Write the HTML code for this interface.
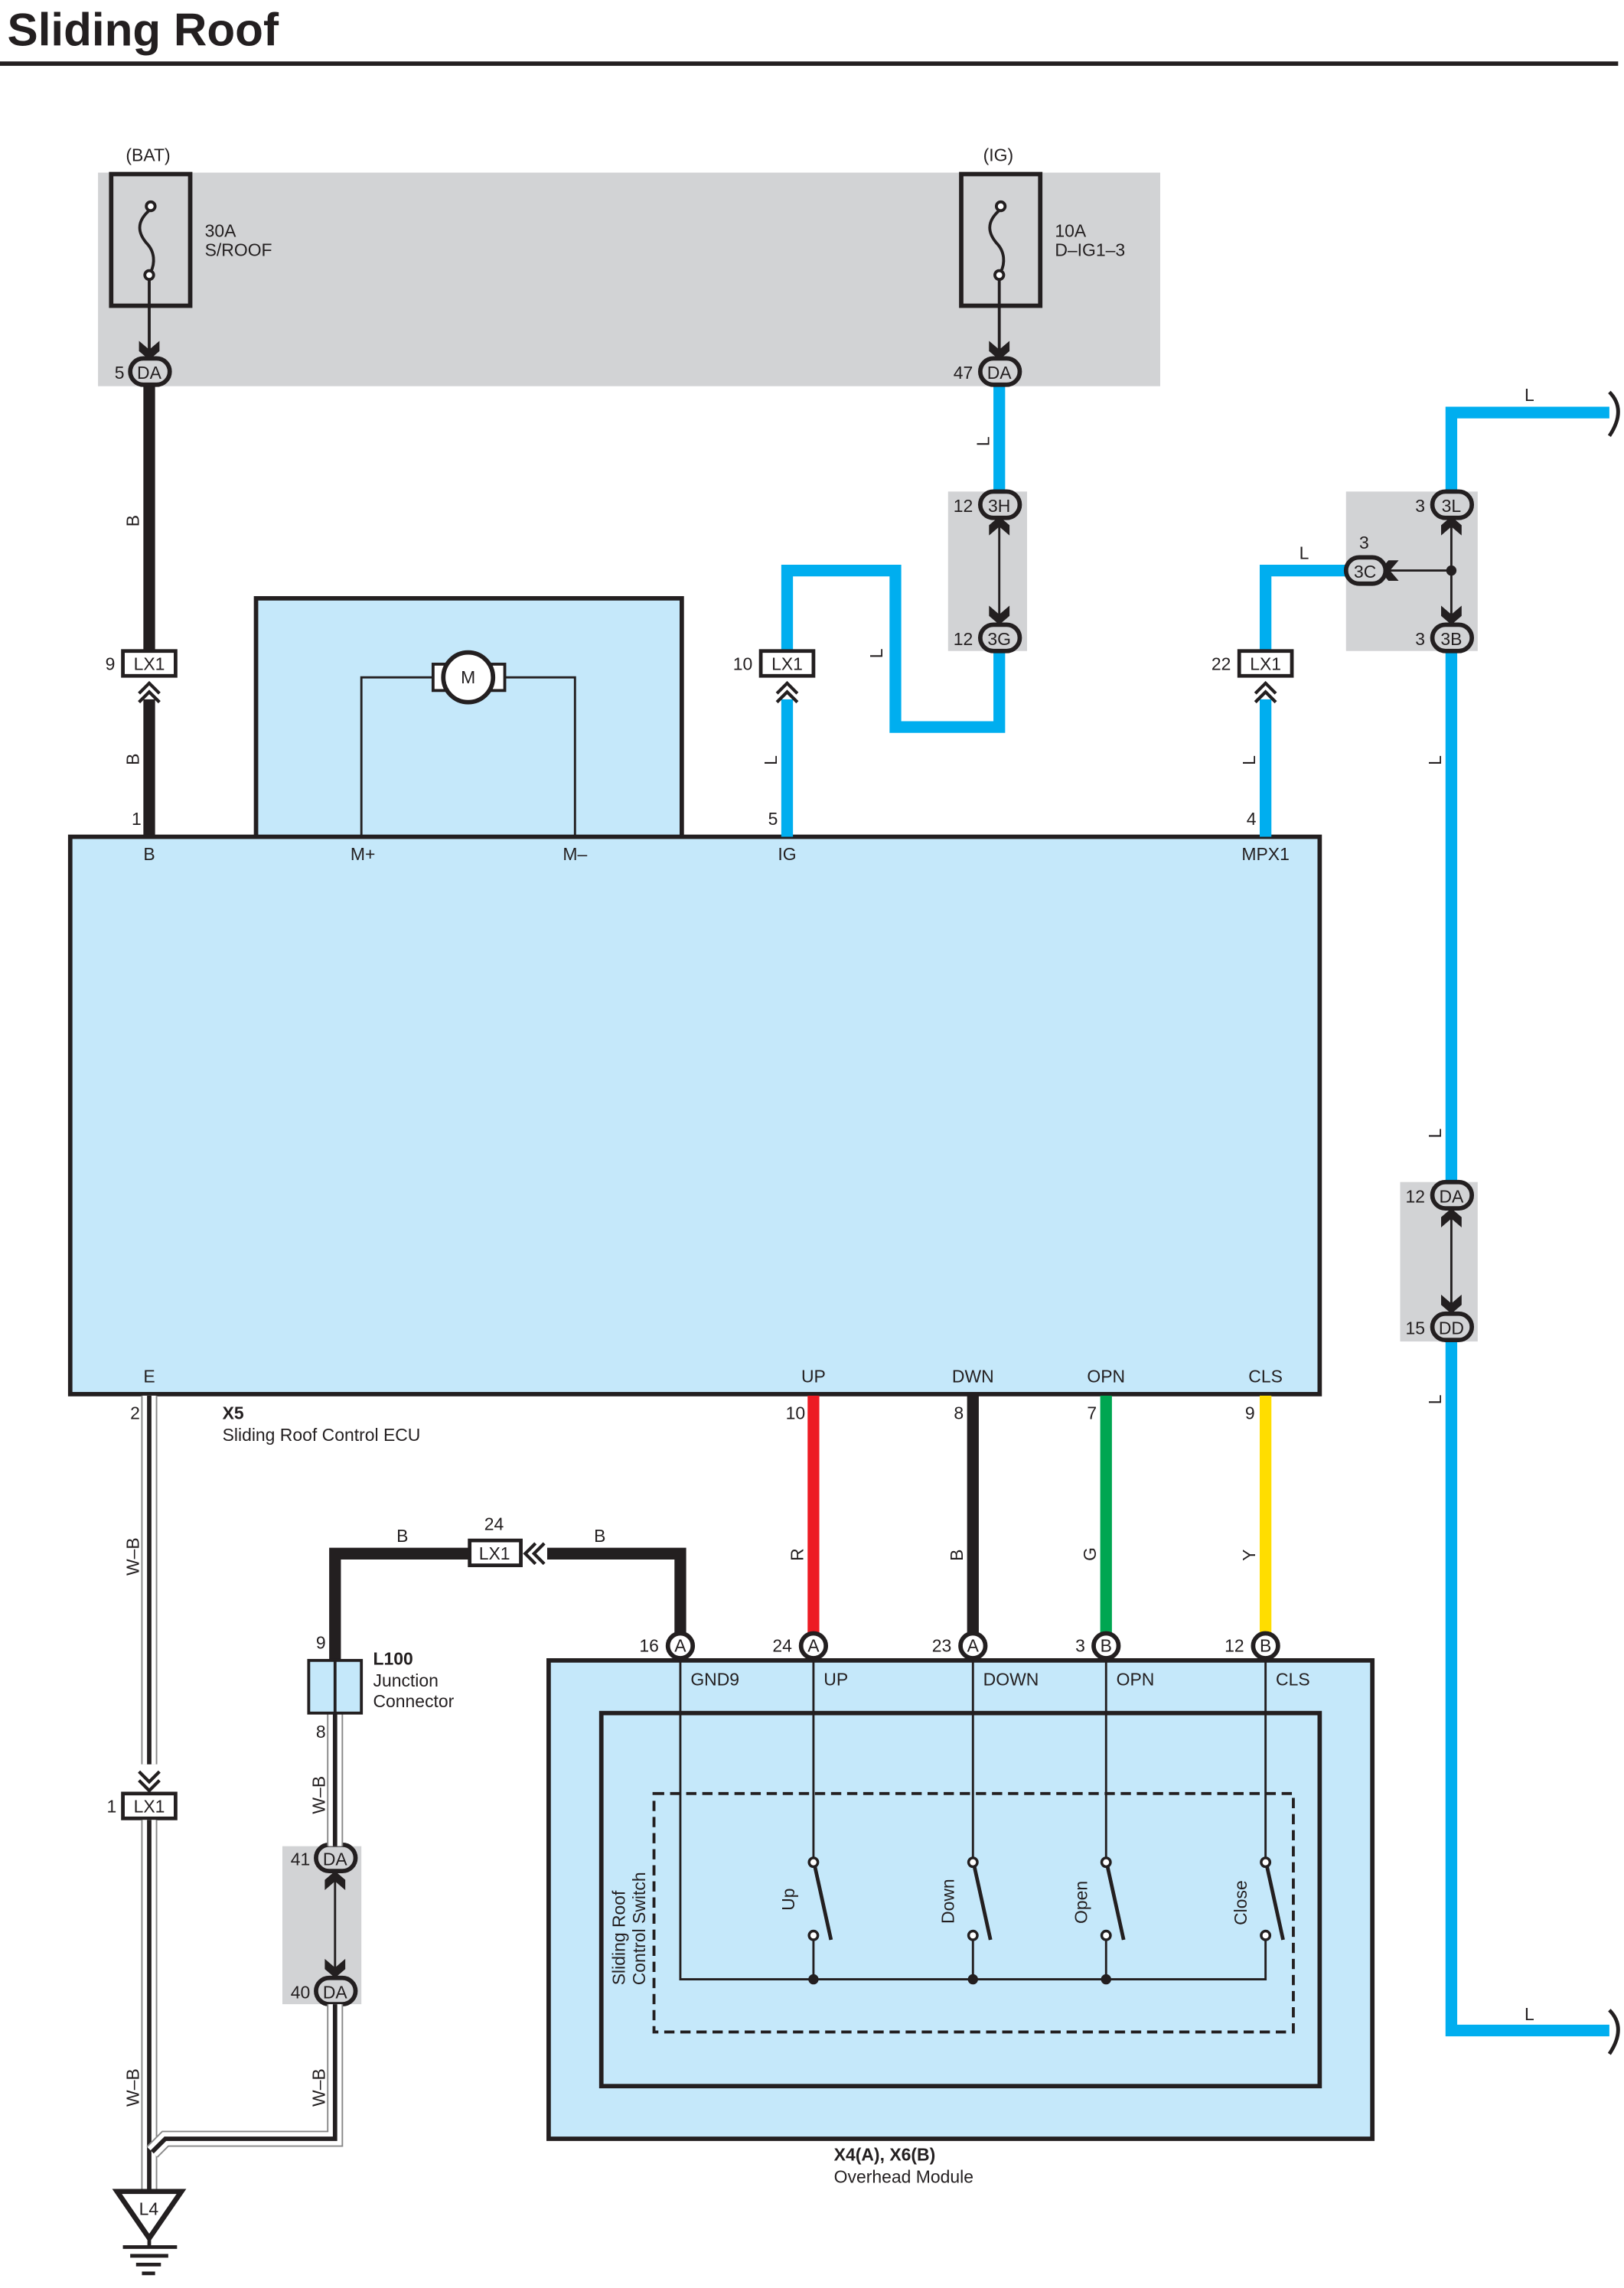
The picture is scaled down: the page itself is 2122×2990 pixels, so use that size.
<!DOCTYPE html>
<html><head><meta charset="utf-8"><style>
html,body{margin:0;padding:0;background:#fff}
svg{display:block}
text{font-family:"Liberation Sans",Arial,sans-serif;font-size:12px;fill:#231f20}
</style></head><body>
<svg width="2122" height="2990" viewBox="0 0 1110 1564" preserveAspectRatio="none" xmlns="http://www.w3.org/2000/svg">
<defs>
<path id="ad" d="M-7,-13 L0,-7 L7,-13 L7,-6 L0,0 L-7,-6 Z" fill="#231f20"/>
<g id="chev"><path d="M-7,0 L0,-7 L7,0 M-7,6 L0,-1 L7,6" fill="none" stroke="#231f20" stroke-width="2.2"/></g>
</defs>
<text x="5" y="31" style="font-size:31.5px;font-weight:bold">Sliding Roof</text>
<rect x="0" y="42" width="1106" height="3" fill="#231f20"/>

<rect x="67" y="118" width="726" height="146" fill="#d2d3d5"/>
<rect x="76" y="119" width="54" height="90" fill="none" stroke="#231f20" stroke-width="3"/>
<rect x="657" y="119" width="54" height="90" fill="none" stroke="#231f20" stroke-width="3"/>
<g fill="none" stroke="#231f20" stroke-width="2">
<path d="M103,143 C92,152 95,160 100,166 C106,172 106,180 103,186"/>
<circle cx="103" cy="141" r="3" fill="#fff"/><circle cx="102" cy="188" r="3" fill="#fff"/>
<line x1="102" y1="191" x2="102" y2="240"/>
<path d="M684,143 C673,152 676,160 681,166 C687,172 687,180 684,186"/>
<circle cx="684" cy="141" r="3" fill="#fff"/><circle cx="683" cy="188" r="3" fill="#fff"/>
<line x1="683" y1="191" x2="683" y2="240"/>
</g>
<use href="#ad" x="102" y="246"/><use href="#ad" x="683" y="246"/>
<text x="86" y="110">(BAT)</text><text x="672" y="110">(IG)</text>
<text x="140" y="162">30A</text><text x="140" y="175">S/ROOF</text>
<text x="721" y="162">10A</text><text x="721" y="175">D–IG1–3</text>

<rect x="175" y="409" width="291" height="164" fill="#c5e8fa" stroke="#231f20" stroke-width="3"/>
<rect x="48" y="572" width="854" height="381" fill="#c5e8fa" stroke="#231f20" stroke-width="3"/>
<path d="M247,572 V463 H296 M345,463 H393 V572" fill="none" stroke="#231f20" stroke-width="1.5"/>
<rect x="296" y="454" width="49" height="18" fill="#fff" stroke="#231f20" stroke-width="2"/>
<circle cx="320" cy="463" r="17" fill="#fff" stroke="#231f20" stroke-width="3"/>
<text x="315" y="467">M</text>

<line x1="102" y1="262" x2="102" y2="445" stroke="#231f20" stroke-width="8"/>
<line x1="102" y1="478" x2="102" y2="572" stroke="#231f20" stroke-width="8"/>
<g fill="none" stroke="#00aeef" stroke-width="8">
<path d="M538,572 V478 M538,445 V390 H612 V497 H683 V445"/>
<path d="M683,262 V337"/>
<path d="M865,572 V478 M865,445 V390 H920"/>
<path d="M992,337 V282 H1100"/>
<path d="M992,445 V808 M992,917 V1388 H1100"/>
</g>
<path d="M1100,268 C1108,276 1108,286 1100,298" fill="none" stroke="#231f20" stroke-width="2.5"/>
<path d="M1100,1374 C1108,1382 1108,1392 1100,1404" fill="none" stroke="#231f20" stroke-width="2.5"/>

<rect x="648" y="336" width="54" height="109" fill="#d2d3d5"/>
<rect x="920" y="336" width="90" height="109" fill="#d2d3d5"/>
<rect x="957" y="808" width="53" height="109" fill="#d2d3d5"/>
<rect x="193" y="1262" width="54" height="108" fill="#d2d3d5"/>
<g stroke="#231f20" stroke-width="1.5">
<line x1="683" y1="360" x2="683" y2="422"/>
<line x1="992" y1="360" x2="992" y2="422"/><line x1="948" y1="390" x2="992" y2="390"/>
<line x1="992" y1="832" x2="992" y2="893"/>
<line x1="229" y1="1285" x2="229" y2="1347"/>
</g>
<circle cx="992" cy="390" r="3.5" fill="#231f20"/>
<g>
<use href="#ad" transform="translate(683,353) rotate(180)"/><use href="#ad" x="683" y="427"/>
<use href="#ad" transform="translate(992,353) rotate(180)"/><use href="#ad" x="992" y="427"/>
<use href="#ad" transform="translate(943,390) rotate(90)"/>
<use href="#ad" transform="translate(992,826) rotate(180)"/><use href="#ad" x="992" y="898"/>
<use href="#ad" transform="translate(229,1279) rotate(180)"/><use href="#ad" x="229" y="1352"/>
</g>

<g fill="#d2d3d5" stroke="#231f20" stroke-width="3">
<rect x="89" y="245" width="27" height="18" rx="9"/>
<rect x="670" y="245" width="27" height="18" rx="9"/>
<rect x="670" y="336" width="27" height="18" rx="9"/>
<rect x="670" y="427" width="27" height="18" rx="9"/>
<rect x="979" y="336" width="27" height="18" rx="9"/>
<rect x="979" y="427" width="27" height="18" rx="9"/>
<rect x="920" y="381" width="27" height="18" rx="9"/>
<rect x="979" y="808" width="27" height="18" rx="9"/>
<rect x="979" y="898" width="27" height="18" rx="9"/>
<rect x="216" y="1261" width="27" height="18" rx="9"/>
<rect x="216" y="1352" width="27" height="18" rx="9"/>
</g>
<g style="font-size:12px" text-anchor="middle">
<text x="102" y="259">DA</text><text x="683" y="259">DA</text>
<text x="683" y="350">3H</text><text x="683" y="441">3G</text>
<text x="992" y="350">3L</text><text x="992" y="441">3B</text>
<text x="933" y="395">3C</text>
<text x="992" y="822">DA</text><text x="992" y="912">DD</text>
<text x="229" y="1275">DA</text><text x="229" y="1366">DA</text>
</g>
<g text-anchor="end">
<text x="85" y="259">5</text><text x="665" y="259">47</text>
<text x="665" y="350">12</text><text x="665" y="441">12</text>
<text x="974" y="350">3</text><text x="974" y="441">3</text>
<text x="974" y="822">12</text><text x="974" y="912">15</text>
<text x="212" y="1275">41</text><text x="212" y="1366">40</text>
</g>
<text x="929" y="375">3</text>

<g fill="#fff" stroke="#231f20" stroke-width="2.5">
<rect x="84" y="445" width="36" height="17"/>
<rect x="520" y="445" width="36" height="17"/>
<rect x="847" y="445" width="36" height="17"/>
<rect x="84" y="1226" width="36" height="17"/>
<rect x="321" y="1053" width="35" height="17"/>
</g>
<g text-anchor="middle">
<text x="102" y="458">LX1</text><text x="538" y="458">LX1</text><text x="865" y="458">LX1</text>
<text x="102" y="1239">LX1</text><text x="338" y="1066">LX1</text>
</g>
<text x="72" y="458">9</text><text x="501" y="458">10</text><text x="828" y="458">22</text>
<text x="73" y="1239">1</text><text x="331" y="1046">24</text>
<use href="#chev" x="102" y="474"/><use href="#chev" x="538" y="474"/><use href="#chev" x="865" y="474"/>
<use href="#chev" transform="translate(102,1217) rotate(180)"/>
<use href="#chev" transform="translate(366,1062) rotate(-90)"/>

<text x="90" y="564">1</text><text x="525" y="564">5</text><text x="852" y="564">4</text>
<g text-anchor="middle">
<text x="102" y="588">B</text><text x="248" y="588">M+</text><text x="393" y="588">M–</text>
<text x="538" y="588">IG</text><text x="865" y="588">MPX1</text>
<text x="102" y="945">E</text><text x="556" y="945">UP</text><text x="665" y="945">DWN</text>
<text x="756" y="945">OPN</text><text x="865" y="945">CLS</text>
</g>
<text x="152" y="970" style="font-weight:bold">X5</text>
<text x="152" y="985">Sliding Roof Control ECU</text>
<text x="89" y="970">2</text><text x="537" y="970">10</text><text x="652" y="970">8</text>
<text x="743" y="970">7</text><text x="851" y="970">9</text>

<g>
<text transform="translate(95,360) rotate(-90)">B</text>
<text transform="translate(95,523) rotate(-90)">B</text>
<text transform="translate(676,305) rotate(-90)">L</text>
<text transform="translate(531,523) rotate(-90)">L</text>
<text transform="translate(603,450) rotate(-90)">L</text>
<text transform="translate(858,523) rotate(-90)">L</text>
<text transform="translate(985,523) rotate(-90)">L</text>
<text transform="translate(985,778) rotate(-90)">L</text>
<text transform="translate(985,960) rotate(-90)">L</text>
<text transform="translate(549,1067) rotate(-90)">R</text>
<text transform="translate(658,1067) rotate(-90)">B</text>
<text transform="translate(749,1067) rotate(-90)">G</text>
<text transform="translate(858,1067) rotate(-90)">Y</text>
<text transform="translate(95,1077) rotate(-90)">W–B</text>
<text transform="translate(95,1440) rotate(-90)">W–B</text>
<text transform="translate(222,1240) rotate(-90)">W–B</text>
<text transform="translate(222,1440) rotate(-90)">W–B</text>
</g>
<text x="888" y="382">L</text><text x="1042" y="274">L</text><text x="1042" y="1381">L</text>
<text x="271" y="1054">B</text><text x="406" y="1054">B</text>

<line x1="556" y1="954" x2="556" y2="1116" stroke="#ed1c24" stroke-width="8"/>
<line x1="665" y1="954" x2="665" y2="1116" stroke="#231f20" stroke-width="8"/>
<line x1="756" y1="954" x2="756" y2="1116" stroke="#00a651" stroke-width="8"/>
<line x1="865" y1="954" x2="865" y2="1116" stroke="#ffdd00" stroke-width="8"/>
<path d="M465,1116 V1062 H374 M321,1062 H229 V1135" fill="none" stroke="#231f20" stroke-width="8"/>

<g fill="none" stroke-linejoin="miter">
<path d="M102,954 V1206 M102,1244 V1498" stroke="#888" stroke-width="11"/>
<path d="M102,954 V1206 M102,1244 V1498" stroke="#fff" stroke-width="9"/>
<path d="M102,954 V1206 M102,1244 V1498" stroke="#231f20" stroke-width="3"/>
<path d="M229,1171 V1262 M229,1370 V1462 H113 L104,1471" stroke="#888" stroke-width="11"/>
<path d="M229,1171 V1262 M229,1370 V1462 H113 L104,1471" stroke="#fff" stroke-width="9"/>
<path d="M229,1171 V1262 M229,1370 V1462 H113 L104,1471" stroke="#231f20" stroke-width="3"/>
</g>
<rect x="211" y="1135" width="36" height="36" fill="#c5e8fa" stroke="#231f20" stroke-width="2"/>
<line x1="229" y1="1135" x2="229" y2="1171" stroke="#231f20" stroke-width="2"/>
<text x="216" y="1127">9</text><text x="216" y="1188">8</text>
<text x="255" y="1138" style="font-weight:bold">L100</text>
<text x="255" y="1153">Junction</text><text x="255" y="1167">Connector</text>

<path d="M80,1498 H124 L102,1530 Z" fill="#fff" stroke="#231f20" stroke-width="3.5" stroke-linejoin="miter"/>
<text x="95" y="1514">L4</text>
<g stroke="#231f20" stroke-width="2.5"><line x1="102" y1="1530" x2="102" y2="1536"/>
<line x1="84" y1="1536" x2="121" y2="1536"/><line x1="89" y1="1542" x2="115" y2="1542"/>
<line x1="93" y1="1548" x2="110" y2="1548"/><line x1="97" y1="1554" x2="106" y2="1554"/></g>

<rect x="375" y="1135" width="563" height="327" fill="#c5e8fa" stroke="#231f20" stroke-width="3"/>
<rect x="411" y="1171" width="491" height="255" fill="none" stroke="#231f20" stroke-width="3"/>
<rect x="447" y="1226" width="437" height="163" fill="none" stroke="#231f20" stroke-width="2" stroke-dasharray="7,4"/>
<g fill="none" stroke="#231f20" stroke-width="1.5">
<path d="M465,1134 V1353 H865 V1326"/>
<path d="M556,1134 V1270 M556,1326 V1353 M665,1134 V1270 M665,1326 V1353 M756,1134 V1270 M756,1326 V1353 M865,1134 V1270"/>
</g>
<g stroke="#231f20" stroke-width="2.5">
<line x1="557" y1="1276" x2="568" y2="1326"/><line x1="666" y1="1276" x2="677" y2="1326"/>
<line x1="757" y1="1276" x2="768" y2="1326"/><line x1="866" y1="1276" x2="877" y2="1326"/>
</g>
<g fill="#fff" stroke="#231f20" stroke-width="1.8">
<circle cx="556" cy="1273" r="3"/><circle cx="556" cy="1323" r="3"/>
<circle cx="665" cy="1273" r="3"/><circle cx="665" cy="1323" r="3"/>
<circle cx="756" cy="1273" r="3"/><circle cx="756" cy="1323" r="3"/>
<circle cx="865" cy="1273" r="3"/><circle cx="865" cy="1323" r="3"/>
</g>
<g fill="#231f20"><circle cx="556" cy="1353" r="3.5"/><circle cx="665" cy="1353" r="3.5"/><circle cx="756" cy="1353" r="3.5"/></g>
<text transform="translate(543,1306) rotate(-90)">Up</text>
<text transform="translate(652,1315) rotate(-90)">Down</text>
<text transform="translate(743,1315) rotate(-90)">Open</text>
<text transform="translate(852,1316) rotate(-90)">Close</text>
<text transform="translate(427,1357) rotate(-90)">Sliding Roof</text>
<text transform="translate(441,1357) rotate(-90)">Control Switch</text>
<text x="472" y="1152">GND9</text><text x="563" y="1152">UP</text><text x="672" y="1152">DOWN</text>
<text x="763" y="1152">OPN</text><text x="872" y="1152">CLS</text>
<g fill="#fff" stroke="#231f20" stroke-width="3">
<circle cx="465" cy="1125" r="8.5"/><circle cx="556" cy="1125" r="8.5"/><circle cx="665" cy="1125" r="8.5"/>
<circle cx="756" cy="1125" r="8.5"/><circle cx="865" cy="1125" r="8.5"/>
</g>
<g text-anchor="middle" style="font-size:11px">
<text x="465" y="1129">A</text><text x="556" y="1129">A</text><text x="665" y="1129">A</text>
<text x="756" y="1129">B</text><text x="865" y="1129">B</text>
</g>
<text x="437" y="1129">16</text><text x="528" y="1129">24</text><text x="637" y="1129">23</text>
<text x="735" y="1129">3</text><text x="837" y="1129">12</text>
<text x="570" y="1477" style="font-weight:bold">X4(A), X6(B)</text>
<text x="570" y="1492">Overhead Module</text>
</svg>
</body></html>
